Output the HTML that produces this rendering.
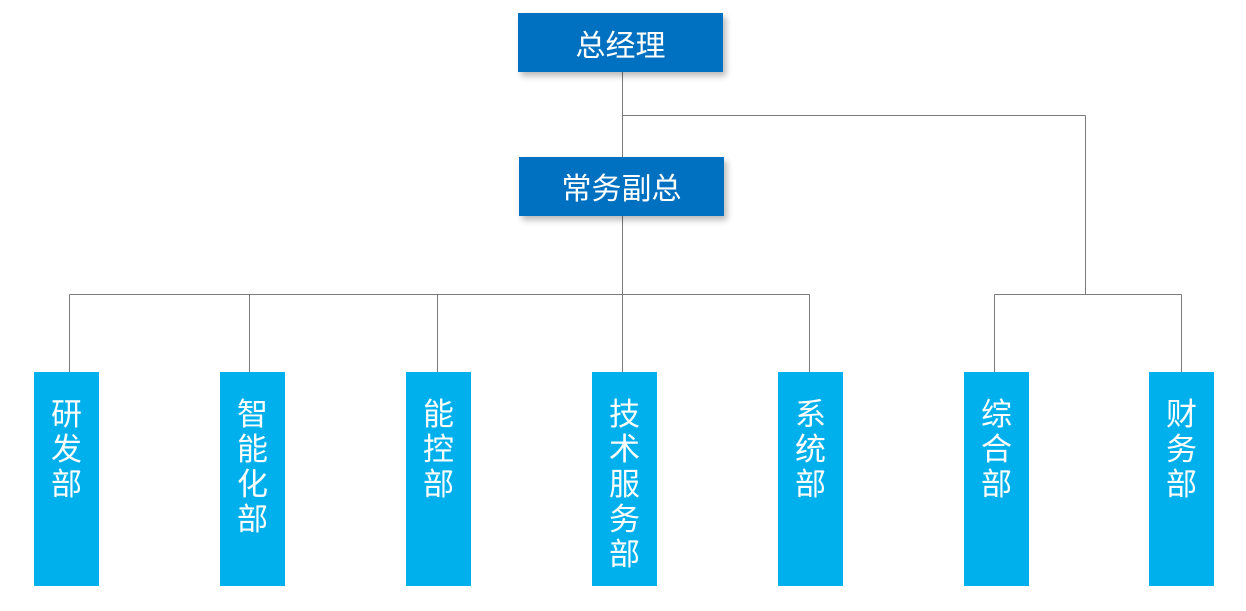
<!DOCTYPE html>
<html>
<head>
<meta charset="utf-8">
<style>
  html, body { margin:0; padding:0; background:#ffffff; }
  body { width:1246px; height:611px; position:relative; overflow:hidden;
         font-family:"Liberation Sans","Noto Sans CJK SC","WenQuanYi Zen Hei",sans-serif; }
  svg.lines { position:absolute; left:0; top:0; }
  .top { position:absolute; background:#0070C0; color:#fff; text-align:center;
         font-size:30px; box-shadow:3px 4px 6px rgba(0,0,0,0.28); box-sizing:border-box; }
  .dept { position:absolute; top:372px; width:65px; height:214px; background:#00B0EC;
          color:#fff; text-align:center; font-size:31px; line-height:35px;
          box-sizing:border-box; padding-top:25px; }
  .dept span { display:block; }
</style>
</head>
<body>
<svg class="lines" width="1246" height="611" viewBox="0 0 1246 611">
  <g stroke="#7a7a7a" stroke-width="1.2" fill="none" shape-rendering="crispEdges">
    <line x1="622.5" y1="72" x2="622.5" y2="157"/>
    <line x1="622.5" y1="115.5" x2="1085.5" y2="115.5"/>
    <line x1="1085.5" y1="115.5" x2="1085.5" y2="294.5"/>
    <line x1="622.5" y1="216" x2="622.5" y2="372"/>
    <line x1="69.5" y1="294.5" x2="809.5" y2="294.5"/>
    <line x1="69.5" y1="294.5" x2="69.5" y2="372"/>
    <line x1="249.5" y1="294.5" x2="249.5" y2="372"/>
    <line x1="437.5" y1="294.5" x2="437.5" y2="372"/>
    <line x1="809.5" y1="294.5" x2="809.5" y2="372"/>
    <line x1="994.5" y1="294.5" x2="1181.5" y2="294.5"/>
    <line x1="994.5" y1="294.5" x2="994.5" y2="372"/>
    <line x1="1181.5" y1="294.5" x2="1181.5" y2="372"/>
  </g>
</svg>

<div class="top" style="left:518px;top:13px;width:205px;height:59px;line-height:59px;padding-top:4px;">总经理</div>
<div class="top" style="left:519px;top:157px;width:205px;height:59px;line-height:59px;padding-top:3px;">常务副总</div>

<div class="dept" style="left:34px;"><span>研</span><span>发</span><span>部</span></div>
<div class="dept" style="left:220px;"><span>智</span><span>能</span><span>化</span><span>部</span></div>
<div class="dept" style="left:406px;"><span>能</span><span>控</span><span>部</span></div>
<div class="dept" style="left:592px;"><span>技</span><span>术</span><span>服</span><span>务</span><span>部</span></div>
<div class="dept" style="left:778px;"><span>系</span><span>统</span><span>部</span></div>
<div class="dept" style="left:964px;"><span>综</span><span>合</span><span>部</span></div>
<div class="dept" style="left:1149px;"><span>财</span><span>务</span><span>部</span></div>
</body>
</html>
